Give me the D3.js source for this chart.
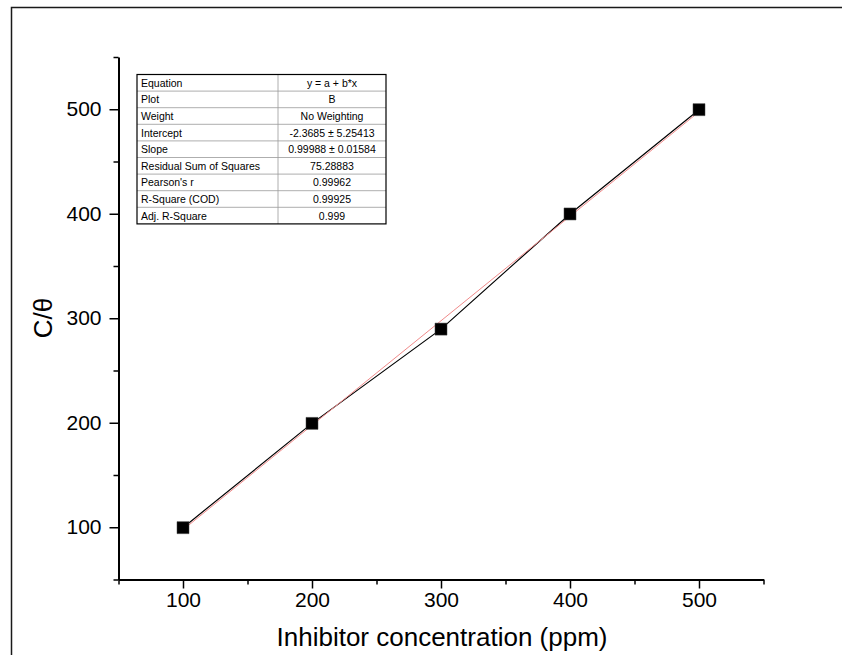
<!DOCTYPE html>
<html>
<head>
<meta charset="utf-8">
<script src="https://cdn.jsdelivr.net/npm/d3@7"></script>
<style>
  body { margin: 0; background: #fff; }
  text { font-family: 'Liberation Sans', Arial, sans-serif; }
</style>
</head>
<body>
<svg id="chart"></svg>
<script>
const concentration = [100, 200, 300, 400, 500];
const cTheta = [99.6, 199.4, 289.6, 399.8, 499.6];
const fitIntercept = -2.3685;
const fitSlope = 0.99988;
const majorTicks = [100, 200, 300, 400, 500];
const minorTicks = [50, 150, 250, 350, 450, 550];
const tableLabels = ['Equation', 'Plot', 'Weight', 'Intercept', 'Slope', 'Residual Sum of Squares', "Pearson's r", 'R-Square (COD)', 'Adj. R-Square'];
const tableValues = ['y = a + b*x', 'B', 'No Weighting', '-2.3685 \u00b1 5.25413', '0.99988 \u00b1 0.01584', '75.28883', '0.99962', '0.99925', '0.999'];

const w = 842;
const h = 655;

const svg = d3.select('#chart')
    .attr('width', w)
    .attr('height', h);

// outer frame (only left and top edges show)
svg.append('path')
    .attr('d', `M11.5,${h} V7.5 H${w}`)
    .attr('fill', 'none')
    .attr('stroke', '#1a1a1a')
    .attr('stroke-width', 1.5);

const xScale = d3.scaleLinear().domain([50, 550]).range([118.5, 763.5]);
const yScale = d3.scaleLinear().domain([50, 550]).range([579.5, 57]);

const xMinor = svg.append('g')
    .attr('transform', `translate(0,${yScale(50)})`)
    .call(d3.axisBottom(xScale).tickValues(minorTicks).tickSize(5).tickFormat(''));
const xAxisG = svg.append('g')
    .attr('transform', `translate(0,${yScale(50)})`)
    .call(d3.axisBottom(xScale).tickValues(majorTicks).tickSize(9).tickPadding(4).tickSizeOuter(0));

const yMinor = svg.append('g')
    .attr('transform', `translate(${xScale(50)},0)`)
    .call(d3.axisLeft(yScale).tickValues(minorTicks).tickSize(5).tickFormat(''));
const yAxisG = svg.append('g')
    .attr('transform', `translate(${xScale(50)},0)`)
    .call(d3.axisLeft(yScale).tickValues(majorTicks).tickSize(9).tickPadding(8).tickSizeOuter(0));

[xMinor, yMinor].forEach(g => g.select('.domain').remove());
[xMinor, xAxisG, yMinor, yAxisG].forEach(g => {
    g.selectAll('line').attr('stroke', '#000').attr('stroke-width', 1.5);
    g.select('.domain').attr('stroke', '#000').attr('stroke-width', 2);
    g.selectAll('text')
      .attr('fill', '#000')
      .style('font-size', '21px')
      .style('font-family', "'Liberation Sans', Arial, sans-serif");
});

svg.append('text')
    .attr('x', 442)
    .attr('y', 646)
    .attr('text-anchor', 'middle')
    .style('font-size', '26px')
    .text('Inhibitor concentration (ppm)');

svg.append('text')
    .attr('transform', 'translate(52,318) rotate(-90)')
    .attr('text-anchor', 'middle')
    .style('font-size', '26px')
    .text('C/\u03b8');

// data line + linear fit
const line = d3.line()
    .x(d => xScale(d[0]))
    .y(d => yScale(d[1]));

const pts = concentration.map((c, i) => [c, cTheta[i]]);
const fitPts = [concentration[0], concentration[concentration.length - 1]]
    .map(c => [c, fitIntercept + fitSlope * c]);

svg.append('path')
    .attr('d', line(pts))
    .attr('fill', 'none')
    .attr('stroke', '#000')
    .attr('stroke-width', 1.2);

svg.append('path')
    .attr('d', line(fitPts))
    .attr('fill', 'none')
    .attr('stroke', '#f08a8a')
    .attr('stroke-width', 1);

svg.selectAll('path.point').data(pts)
    .enter().append('path')
        .attr('class', 'point')
        .attr('transform', d => `translate(${xScale(d[0])},${yScale(d[1])})`)
        .attr('d', d3.symbol(d3.symbolSquare, 144))
        .attr('fill', '#000')
        .attr('stroke', '#444')
        .attr('stroke-width', 0.5);

// fit results table
const tx = 137, ty = 74.5, rowH = 16.6, col1 = 141, colX = 278, tw = 249;
const table = svg.append('g');

tableLabels.forEach((label, i) => {
    const y = ty + i * rowH;
    if (i > 0) {
        table.append('line')
            .attr('x1', tx).attr('x2', tx + tw)
            .attr('y1', y).attr('y2', y)
            .attr('stroke', '#999').attr('stroke-width', 0.8);
    }
    table.append('text')
        .attr('x', col1)
        .attr('y', y + rowH / 2 + 4)
        .style('font-size', '10.5px')
        .text(label);
    table.append('text')
        .attr('x', (colX + tx + tw) / 2)
        .attr('y', y + rowH / 2 + 4)
        .attr('text-anchor', 'middle')
        .style('font-size', '10.5px')
        .text(tableValues[i]);
});

table.append('line')
    .attr('x1', colX).attr('x2', colX)
    .attr('y1', ty).attr('y2', ty + rowH * tableLabels.length)
    .attr('stroke', '#999').attr('stroke-width', 0.8);

table.append('rect')
    .attr('x', tx).attr('y', ty)
    .attr('width', tw).attr('height', rowH * tableLabels.length)
    .attr('fill', 'none')
    .attr('stroke', '#000')
    .attr('stroke-width', 1.2);
</script>
</body>
</html>
